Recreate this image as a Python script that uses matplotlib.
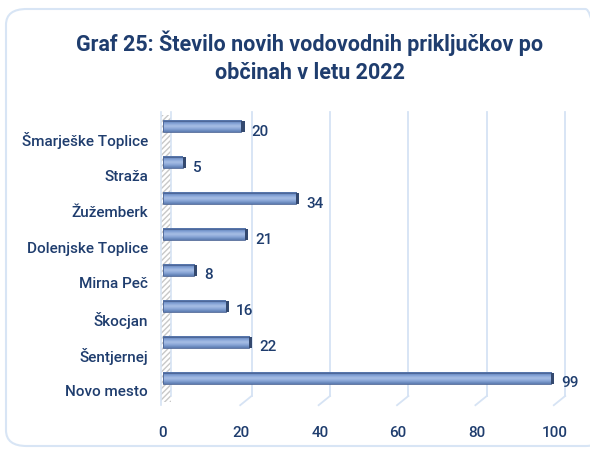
import numpy as np
import matplotlib
matplotlib.use("Agg")
import matplotlib.pyplot as plt
from matplotlib.patches import FancyBboxPatch, Rectangle
from matplotlib.transforms import offset_copy, blended_transform_factory
from matplotlib.colors import LinearSegmentedColormap

plt.rcParams['font.family'] = ['Roboto', 'DejaVu Sans']

# data (bottom to top)
categories = ["Novo mesto", "Šentjernej", "Škocjan", "Mirna Peč",
              "Dolenjske Toplice", "Žužemberk", "Straža", "Šmarješke Toplice"]
values = [99, 22, 16, 8, 21, 34, 5, 20]
x_ticks = [0, 20, 40, 60, 80, 100]

title = "Graf 25: Število novih vodovodnih priključkov po\nobčinah v letu 2022"
navy = '#1f3d6e'
grid_col = '#d6e3f4'

W, H = 590, 452
fig = plt.figure(figsize=(W / 100, H / 100), dpi=100)

# card outline
card = FancyBboxPatch((6 / W, 5 / H), 600 / W, 437 / H,
                      boxstyle="round,pad=0,rounding_size=0.035",
                      transform=fig.transFigure, facecolor='none',
                      edgecolor='#d8e5f5', linewidth=1.5, zorder=-10)
fig.patches.append(card)

fig.text(0.525, 1 - 57 / H, title, ha='center', va='center', fontsize=15.5,
         fontweight='bold', color=navy, linespacing=1.35)

# axes: front plane, 0 at 163px, 100 at 555px
ax = fig.add_axes([163 / W, 1 - 397 / H, (555 - 163) / W, 287 / H])
ax.patch.set_alpha(0)
for s in ax.spines.values():
    s.set_visible(False)
ax.set_yticks([])
ax.set_xticks(x_ticks)
ax.set_xticklabels([str(t) for t in x_ticks])
ax.tick_params(axis='x', length=0, pad=21, labelsize=11, labelcolor=navy)
for lab in ax.get_xticklabels():
    lab.set_fontweight('medium')

bt = blended_transform_factory(ax.transData, ax.transAxes)
depth = 2.6  # back plane shift in data units (~10px)

# gridlines with 3D floor stubs
for t in x_ticks[1:]:
    ax.plot([t + depth, t + depth], [0, 0.99], color=grid_col, lw=1.3,
            transform=bt, clip_on=False, zorder=1)
    ax.plot([t + depth, t - 0.3], [0, -0.032], color=grid_col, lw=1.3,
            transform=bt, clip_on=False, zorder=1)

# hatched side wall at zero
plt.rcParams['hatch.color'] = '#c8c8c8'
wall = Rectangle((-0.6, -0.02), depth, 1.0, transform=bt, facecolor='white',
                 edgecolor='#c8c8c8', hatch='//////', lw=0, clip_on=False,
                 zorder=1)
ax.add_patch(wall)
ax.plot([-0.6, -0.6], [-0.03, 0.99], color=grid_col, lw=1.2, transform=bt,
        clip_on=False, zorder=1)
ax.plot([depth - 0.6, depth - 0.6], [0, 0.99], color=grid_col, lw=1.2,
        transform=bt, clip_on=False, zorder=1)

# bars with gradient
cmap = LinearSegmentedColormap.from_list(
    'bar', ['#4f6ea3', '#7e9ed3', '#a9c0e6', '#86a4d6', '#5a79ae'])
grad = np.linspace(0, 1, 64).reshape(-1, 1)
bh = 0.31
cap = 0.8  # visible end face of the 3D bar
y = np.arange(len(categories))
for yi, v in zip(y, values):
    ax.imshow(grad, cmap=cmap, aspect='auto', origin='upper',
              extent=(0, v, yi - bh / 2, yi + bh / 2), zorder=3,
              interpolation='bicubic')
    ax.add_patch(Rectangle((0, yi - bh / 2), v, bh, facecolor='none',
                           edgecolor='#4a6394', lw=0.6, zorder=4))
    ax.add_patch(Rectangle((v, yi - bh / 2), cap, bh,
                           facecolor='#34496f', edgecolor='none', zorder=5,
                           clip_on=False))
ax.set_xlim(0, 100)
ax.set_ylim(-0.5, len(categories) - 0.5)

# value labels
vt = offset_copy(ax.transData, fig=fig, x=10, y=-4, units='dots')
for yi, v in zip(y, values):
    ax.text(v, yi, str(v), transform=vt, ha='left', va='center',
            fontsize=11, fontweight='medium', color=navy, clip_on=False)

# category labels (shifted down for the perspective look)
ct = offset_copy(ax.transData, fig=fig, x=-15, y=-13, units='dots')
for yi, c in zip(y, categories):
    ax.text(0, yi, c, transform=ct, ha='right', va='center',
            fontsize=11, fontweight='medium', color=navy, clip_on=False)

fig.savefig("out.png", dpi=100)
